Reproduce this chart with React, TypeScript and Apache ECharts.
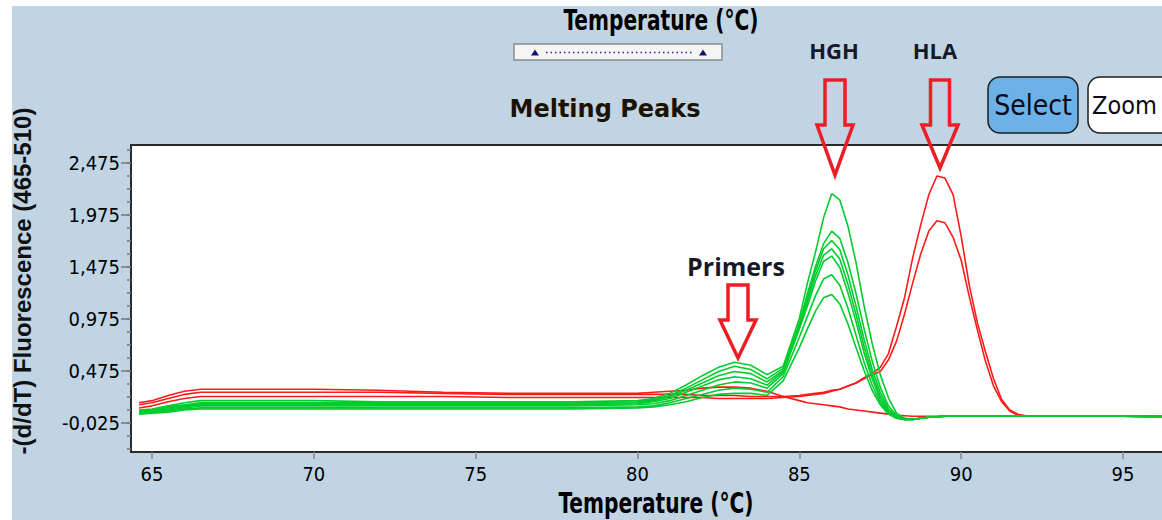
import React, { useEffect, useRef } from "react";
import * as echarts from "echarts";

// Temperature grid (°C)
const temps = [64.6, 65, 65.5, 66, 66.5, 67, 68, 70, 72, 74, 76, 78, 80, 80.5, 81, 81.5, 82, 82.5, 83, 83.5, 84, 84.5, 85, 85.25, 85.5, 85.75, 86, 86.25, 86.5, 86.75, 87, 87.25, 87.5, 87.75, 88, 88.25, 88.5, 88.75, 89, 89.25, 89.5, 89.75, 90, 90.25, 90.5, 90.75, 91, 91.25, 91.5, 91.75, 92, 92.5, 93, 94, 95, 96.6];

// HGH samples (green)
const hgh1 = [0.10, 0.11, 0.14, 0.17, 0.19, 0.19, 0.19, 0.19, 0.18, 0.18, 0.18, 0.18, 0.19, 0.21, 0.26, 0.34, 0.43, 0.51, 0.56, 0.53, 0.44, 0.52, 0.98, 1.32, 1.62, 1.95, 2.18, 2.12, 1.87, 1.52, 1.10, 0.74, 0.44, 0.22, 0.07, 0.02, 0.01, 0.02, 0.03, 0.035, 0.04, 0.04, 0.04, 0.04, 0.04, 0.04, 0.04, 0.04, 0.04, 0.04, 0.04, 0.04, 0.04, 0.04, 0.04, 0.035];
const hgh2 = [0.09, 0.10, 0.13, 0.15, 0.17, 0.17, 0.17, 0.17, 0.17, 0.17, 0.17, 0.17, 0.18, 0.20, 0.24, 0.31, 0.39, 0.47, 0.52, 0.49, 0.40, 0.50, 0.93, 1.22, 1.48, 1.70, 1.82, 1.75, 1.52, 1.22, 0.88, 0.57, 0.32, 0.14, 0.05, 0.02, 0.01, 0.02, 0.03, 0.035, 0.04, 0.04, 0.04, 0.04, 0.04, 0.04, 0.04, 0.04, 0.04, 0.04, 0.04, 0.04, 0.04, 0.04, 0.04, 0.035];
const hgh3 = [0.08, 0.09, 0.12, 0.14, 0.16, 0.16, 0.16, 0.16, 0.16, 0.16, 0.16, 0.16, 0.17, 0.19, 0.23, 0.29, 0.36, 0.43, 0.47, 0.45, 0.37, 0.48, 0.92, 1.18, 1.44, 1.65, 1.73, 1.64, 1.40, 1.10, 0.78, 0.49, 0.27, 0.11, 0.04, 0.01, 0.01, 0.02, 0.03, 0.035, 0.04, 0.04, 0.04, 0.04, 0.04, 0.04, 0.04, 0.04, 0.04, 0.04, 0.04, 0.04, 0.04, 0.04, 0.04, 0.035];
const hgh4 = [0.08, 0.09, 0.11, 0.13, 0.15, 0.15, 0.15, 0.15, 0.15, 0.15, 0.15, 0.15, 0.16, 0.18, 0.21, 0.27, 0.33, 0.39, 0.42, 0.40, 0.34, 0.47, 0.90, 1.14, 1.39, 1.59, 1.65, 1.55, 1.31, 1.02, 0.71, 0.44, 0.23, 0.09, 0.03, 0.01, 0.01, 0.02, 0.03, 0.035, 0.04, 0.04, 0.04, 0.04, 0.04, 0.04, 0.04, 0.04, 0.04, 0.04, 0.04, 0.04, 0.04, 0.04, 0.04, 0.035];
const hgh5 = [0.07, 0.08, 0.10, 0.12, 0.14, 0.14, 0.14, 0.14, 0.14, 0.14, 0.14, 0.14, 0.15, 0.16, 0.19, 0.24, 0.29, 0.34, 0.37, 0.36, 0.31, 0.45, 0.88, 1.10, 1.34, 1.53, 1.58, 1.47, 1.23, 0.95, 0.65, 0.40, 0.20, 0.08, 0.03, 0.01, 0.01, 0.02, 0.03, 0.035, 0.04, 0.04, 0.04, 0.04, 0.04, 0.04, 0.04, 0.04, 0.04, 0.04, 0.04, 0.04, 0.04, 0.04, 0.04, 0.035];
const hgh6 = [0.07, 0.08, 0.09, 0.11, 0.12, 0.12, 0.12, 0.12, 0.12, 0.12, 0.12, 0.12, 0.13, 0.14, 0.17, 0.21, 0.25, 0.29, 0.31, 0.30, 0.27, 0.42, 0.80, 1.00, 1.20, 1.36, 1.40, 1.30, 1.08, 0.82, 0.56, 0.34, 0.17, 0.07, 0.02, 0.01, 0.01, 0.02, 0.03, 0.035, 0.04, 0.04, 0.04, 0.04, 0.04, 0.04, 0.04, 0.04, 0.04, 0.04, 0.04, 0.04, 0.04, 0.04, 0.04, 0.035];
const hgh7 = [0.06, 0.07, 0.08, 0.10, 0.11, 0.11, 0.11, 0.11, 0.11, 0.11, 0.11, 0.11, 0.12, 0.13, 0.15, 0.18, 0.22, 0.25, 0.26, 0.26, 0.24, 0.38, 0.70, 0.88, 1.05, 1.18, 1.21, 1.12, 0.93, 0.70, 0.48, 0.29, 0.15, 0.06, 0.02, 0.01, 0.01, 0.02, 0.03, 0.035, 0.04, 0.04, 0.04, 0.04, 0.04, 0.04, 0.04, 0.04, 0.04, 0.04, 0.04, 0.04, 0.04, 0.04, 0.04, 0.035];

// HLA samples and control (red)
const hla1 = [0.15, 0.17, 0.21, 0.25, 0.27, 0.27, 0.27, 0.27, 0.27, 0.26, 0.25, 0.25, 0.25, 0.25, 0.25, 0.25, 0.24, 0.24, 0.24, 0.23, 0.23, 0.23, 0.24, 0.25, 0.26, 0.27, 0.29, 0.30, 0.33, 0.36, 0.41, 0.45, 0.51, 0.64, 0.90, 1.18, 1.56, 1.88, 2.17, 2.35, 2.33, 2.17, 1.77, 1.30, 0.94, 0.66, 0.40, 0.20, 0.10, 0.06, 0.045, 0.045, 0.045, 0.045, 0.045, 0.035];
const hla2 = [0.12, 0.14, 0.18, 0.21, 0.23, 0.23, 0.23, 0.23, 0.23, 0.23, 0.22, 0.22, 0.22, 0.22, 0.22, 0.22, 0.22, 0.21, 0.21, 0.21, 0.21, 0.22, 0.23, 0.24, 0.25, 0.26, 0.28, 0.30, 0.33, 0.36, 0.40, 0.44, 0.47, 0.58, 0.76, 1.02, 1.32, 1.60, 1.82, 1.92, 1.90, 1.76, 1.54, 1.19, 0.87, 0.57, 0.33, 0.18, 0.09, 0.05, 0.04, 0.04, 0.045, 0.045, 0.045, 0.035];
const control = [0.17, 0.19, 0.24, 0.28, 0.30, 0.30, 0.30, 0.30, 0.29, 0.27, 0.26, 0.26, 0.26, 0.27, 0.28, 0.29, 0.31, 0.32, 0.32, 0.31, 0.28, 0.23, 0.19, 0.17, 0.16, 0.15, 0.14, 0.13, 0.11, 0.10, 0.09, 0.08, 0.07, 0.06, 0.05, 0.045, 0.04, 0.04, 0.04, 0.04, 0.04, 0.04, 0.04, 0.04, 0.04, 0.04, 0.04, 0.04, 0.04, 0.04, 0.04, 0.045, 0.045, 0.045, 0.045, 0.035];

const greenSeries = [hgh1, hgh2, hgh3, hgh4, hgh5, hgh6, hgh7];
const redSeries = [control, hla1, hla2];

const xTicks = [65, 70, 75, 80, 85, 90, 95];
const yTicks = [-0.025, 0.475, 0.975, 1.475, 1.975, 2.475];

const X_MIN = 64.351;
const X_MAX = 96.668;
const Y_MIN = -0.3038;
const Y_MAX = 2.648;

const NARROW = '"Liberation Sans Narrow", "Arial Narrow", "DejaVu Sans Condensed", sans-serif';
const GREEN = "#00cc2e";
const RED = "#ff1a1a";
const ARROW = "#ee1c24";

function arrow(cx: number, top: number, headTop: number, tip: number, shaftHalf: number, headHalf: number) {
  return {
    type: "polygon",
    z: 100,
    shape: {
      points: [
        [cx - shaftHalf, top],
        [cx + shaftHalf, top],
        [cx + shaftHalf, headTop],
        [cx + headHalf, headTop],
        [cx, tip],
        [cx - headHalf, headTop],
        [cx - shaftHalf, headTop],
      ],
    },
    style: { fill: "none", stroke: ARROW, lineWidth: 3.5, lineJoin: "miter" },
  };
}

export default function App() {
  const ref = useRef<HTMLDivElement>(null);

  useEffect(() => {
    if (!ref.current) return;
    const chart = echarts.init(ref.current, undefined, { renderer: "svg" });

    const minorTicks: number[] = [];
    for (let v = yTicks[0] - 0.25; v <= Y_MAX; v += 0.125) {
      if (v >= Y_MIN) minorTicks.push(Number(v.toFixed(4)));
    }

    const mk = (vals: number[], color: string, name: string) => ({
      type: "line",
      name,
      data: temps.map((t, i) => [t, vals[i]]),
      showSymbol: false,
      symbol: "none",
      smooth: false,
      lineStyle: { color, width: 1.6 },
      itemStyle: { color },
      z: 3,
    });

    const series: any[] = [
      ...redSeries.map((v, i) => mk(v, RED, "HLA " + i)),
      ...greenSeries.map((v, i) => mk(v, GREEN, "HGH " + (i + 1))),
    ];

    chart.setOption({
      animation: false,
      backgroundColor: "transparent",
      grid: {
        left: 131,
        top: 145,
        width: 1046,
        height: 307,
        outerBoundsMode: "none",
        containLabel: false,
        show: true,
        backgroundColor: "#ffffff",
        borderColor: "#2a2a2a",
        borderWidth: 2,
      },
      xAxis: {
        type: "value",
        min: X_MIN,
        max: X_MAX,
        position: "bottom",
        axisLine: { show: false, onZero: false },
        splitLine: { show: false },
        axisTick: { show: true, customValues: xTicks, length: 7, lineStyle: { color: "#888", width: 1.5 } },
        axisLabel: {
          customValues: xTicks,
          margin: 12,
          fontSize: 20,
          fontFamily: NARROW,
          color: "#000",
        },
      },
      yAxis: [
        {
          type: "value",
          min: Y_MIN,
          max: Y_MAX,
          axisLine: { show: false, onZero: false },
          splitLine: { show: false },
          axisTick: { show: true, customValues: yTicks, length: 10, lineStyle: { color: "#777", width: 1.5 } },
          axisLabel: {
            customValues: yTicks,
            margin: 11,
            fontSize: 20,
            fontFamily: NARROW,
            color: "#000",
            formatter: (v: number) => v.toFixed(3).replace(".", ","),
          },
        },
        {
          type: "value",
          min: Y_MIN,
          max: Y_MAX,
          position: "left",
          axisLine: { show: false, onZero: false },
          splitLine: { show: false },
          axisLabel: { show: false },
          axisTick: { show: true, customValues: minorTicks, length: 4, lineStyle: { color: "#777", width: 1.5 } },
        },
      ],
      series,
      graphic: {
        elements: [
          {
            type: "text",
            x: 22,
            y: 281,
            rotation: Math.PI / 2,
            style: {
              fill: "#111",
              text: "-(d/dT) Fluorescence (465-510)",
              fontSize: 24,
              fontWeight: "bold",
              fontFamily: '"Liberation Sans", Arial, sans-serif',
              align: "center",
              verticalAlign: "middle",
            },
          },
          {
            type: "text",
            x: 661,
            y: 20,
            scaleX: 0.8,
            style: {
              fill: "#000",
              text: "Temperature (°C)",
              fontSize: 28,
              fontWeight: "bold",
              fontFamily: NARROW,
              align: "center",
              verticalAlign: "middle",
            },
          },
          {
            type: "text",
            x: 656,
            y: 503,
            scaleX: 0.8,
            style: {
              fill: "#000",
              text: "Temperature (°C)",
              fontSize: 28,
              fontWeight: "bold",
              fontFamily: NARROW,
              align: "center",
              verticalAlign: "middle",
            },
          },
          {
            type: "rect",
            shape: { x: 514, y: 44, width: 208, height: 16 },
            style: { fill: "#f5f5f5", stroke: "#8a8a8a", lineWidth: 1.5 },
          },
          {
            type: "line",
            shape: { x1: 546, y1: 52.5, x2: 694, y2: 52.5 },
            style: { stroke: "#2a2aa0", lineWidth: 1.5, lineDash: [1.5, 3] },
          },
          {
            type: "polygon",
            shape: { points: [[531, 55.5], [539, 55.5], [535, 49.5]] },
            style: { fill: "#141478" },
          },
          {
            type: "polygon",
            shape: { points: [[699, 55.5], [707, 55.5], [703, 49.5]] },
            style: { fill: "#141478" },
          },
          {
            type: "text",
            x: 605,
            y: 109,
            style: {
              fill: "#1b1300",
              text: "Melting Peaks",
              fontSize: 24,
              fontWeight: "bold",
              fontFamily: '"DejaVu Sans", Verdana, sans-serif',
              align: "center",
              verticalAlign: "middle",
            },
          },
          {
            type: "text",
            x: 834,
            y: 50,
            style: {
              fill: "#161a26",
              text: "HGH",
              fontSize: 22,
              fontWeight: "bold",
              fontFamily: '"Open Sans", Lato, sans-serif',
              align: "center",
              verticalAlign: "middle",
            },
          },
          {
            type: "text",
            x: 935,
            y: 50,
            style: {
              fill: "#161a26",
              text: "HLA",
              fontSize: 22,
              fontWeight: "bold",
              fontFamily: '"Open Sans", Lato, sans-serif',
              align: "center",
              verticalAlign: "middle",
            },
          },
          {
            type: "text",
            x: 736,
            y: 266,
            z: 100,
            style: {
              fill: "#161a26",
              text: "Primers",
              fontSize: 25,
              fontWeight: "bold",
              fontFamily: '"Open Sans", Lato, sans-serif',
              align: "center",
              verticalAlign: "middle",
            },
          },
          arrow(835, 80, 125, 175, 10, 18),
          arrow(940, 80, 125, 168, 9.5, 18),
          arrow(738, 285, 320, 358, 10, 18),
          {
            type: "rect",
            shape: { x: 988, y: 77, width: 90, height: 56, r: 12 },
            style: { fill: "#6cb1e8", stroke: "#1e1e1e", lineWidth: 1.5 },
          },
          {
            type: "text",
            x: 1033,
            y: 105,
            style: {
              fill: "#0a0a1a",
              text: "Select",
              fontSize: 28,
              fontFamily: '"DejaVu Sans Condensed", "Liberation Sans Narrow", sans-serif',
              align: "center",
              verticalAlign: "middle",
            },
          },
          {
            type: "rect",
            shape: { x: 1088, y: 77, width: 100, height: 56, r: 12 },
            style: { fill: "#ffffff", stroke: "#1e1e1e", lineWidth: 1.5 },
          },
          {
            type: "text",
            x: 1092,
            y: 105,
            style: {
              fill: "#0a0a1a",
              text: "Zoom",
              fontSize: 25,
              fontFamily: '"DejaVu Sans Condensed", "Liberation Sans Narrow", sans-serif',
              align: "left",
              verticalAlign: "middle",
            },
          },
        ],
      },
    });

    return () => chart.dispose();
  }, []);

  return (
    <div style={{ position: "fixed", left: 0, top: 0, width: 1162, height: 520, background: "#ffffff", overflow: "hidden" }}>
      <div style={{ position: "absolute", left: 12, top: 6, right: 0, bottom: 0, background: "#c1d4e4" }} />
      <div ref={ref} style={{ position: "absolute", left: 0, top: 0, width: 1162, height: 520 }} />
    </div>
  );
}
